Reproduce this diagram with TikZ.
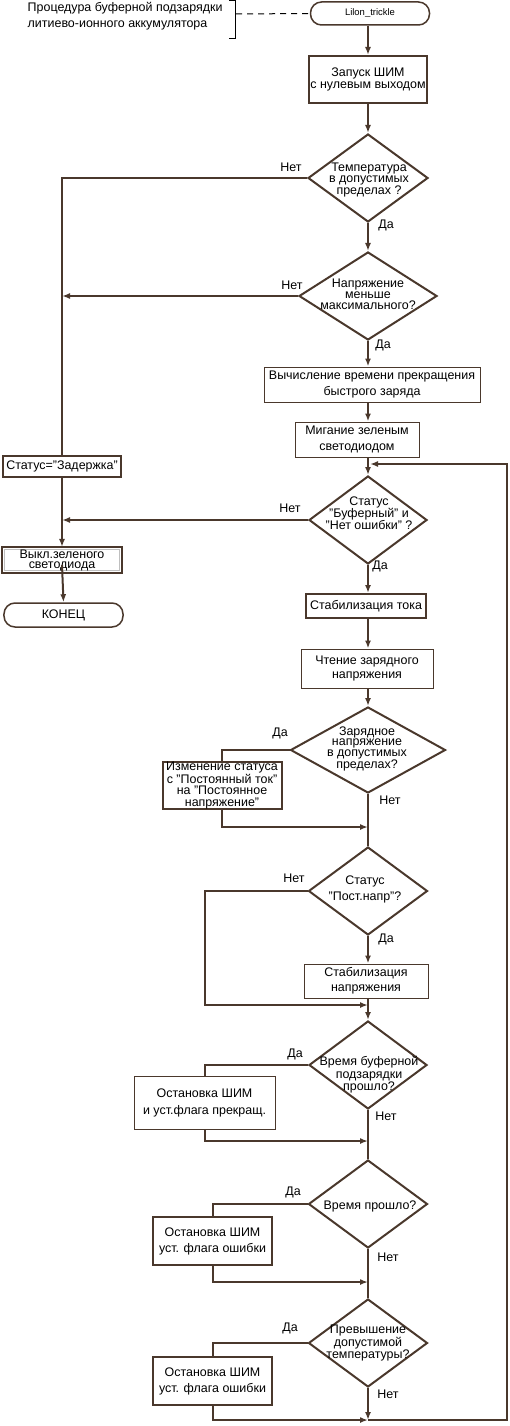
\documentclass[tikz,border=0pt]{standalone}
\usepackage{fontspec}
\setmainfont{Liberation Sans}
\usetikzlibrary{shapes.geometric,arrows.meta}
\definecolor{brn}{RGB}{74,56,44}
\begin{document}
\begin{tikzpicture}[x=1bp,y=-1bp,
  conn/.style={draw=brn,line width=2bp},
  arr/.style={conn,-{Latex[length=8bp,width=6bp]}},
  fnt/.style={font=\fontsize{12.5}{#1}\selectfont},
  tbox/.style={draw=brn,line width=1bp,fill=white,inner sep=0pt,align=center},
  kbox/.style={draw=brn,line width=2bp,fill=white,inner sep=0pt,align=center},
  dia/.style={diamond,draw=brn,line width=2bp,inner sep=0pt},
  term/.style={draw=brn,line width=1.5bp,rounded corners=11bp,inner sep=0pt,align=center},
  lbl/.style={font=\fontsize{12.5}{14}\selectfont,inner sep=0pt},
  dtext/.style={align=center,inner sep=0pt}
]
\useasboundingbox (0,0) rectangle (510,1426);

% annotation
\node[align=left,inner sep=0pt,anchor=west,fnt=16] (note) at (27.5,16) {Процедура буферной подзарядки\\литиево-ионного аккумулятора};
\draw[black,line width=1bp] (229,0.5) -- (235,0.5) -- (235,38.5) -- (229,38.5);
\coordinate (br) at (236,14);

% nodes
\node[term,minimum width=119bp,minimum height=23bp,font=\fontsize{9.5}{10}\selectfont] (start) at (370,13.5) {Lilon\_trickle};
\draw[black,line width=1bp,dash pattern=on 6bp off 5bp] (br) -- (start.west);

\node[kbox,fnt=12,minimum width=118bp,minimum height=47bp] (run) at (368,79.5) {Запуск ШИМ\\с нулевым выходом};
\node[dia,minimum width=120bp,minimum height=88bp] (d1) at (368,178) {};
\node[dtext,fnt=11] (d1t) at (369,180) {Температура\\в допустимых\\пределах ?};
\node[dia,minimum width=138bp,minimum height=88bp] (d2) at (368,296) {};
\node[dtext,fnt=11] (d2t) at (368,294) {Напряжение\\меньше\\максимального?};
\node[tbox,fnt=16,minimum width=216bp,minimum height=35bp] (calc) at (372,384.5) {Вычисление времени прекращения\\быстрого заряда};
\node[tbox,fnt=16,minimum width=124bp,minimum height=35bp] (blink) at (357,439.5) {Мигание зеленым\\светодиодом};
\coordinate (m1) at (368,464);
\node[dia,minimum width=118bp,minimum height=88bp] (d3) at (368,520) {};
\node[dtext,fnt=12] (d3t) at (369,513) {Статус\\"Буферный" и\\"Нет ошибки" ?};

\node[kbox,fnt=12,minimum width=118bp,minimum height=21bp] (zad) at (62,466.5) {Статус="Задержка"};
\node[draw=gray!50,line width=1bp,fill=white,inner sep=0pt,align=center,fnt=10,minimum width=114bp,minimum height=20bp] (vykl) at (62,560) {Выкл.зеленого\\светодиода};
\draw[brn,line width=2bp] ([shift={(-2bp,2bp)}]vykl.north west) rectangle ([shift={(2bp,-2bp)}]vykl.south east);
\node[term,fnt=12,minimum width=119bp,minimum height=24bp] (kon) at (63.5,615) {КОНЕЦ};

\node[kbox,fnt=12,minimum width=120bp,minimum height=24bp] (stok) at (366,606) {Стабилизация тока};
\node[tbox,fnt=15,minimum width=132bp,minimum height=39bp] (cht) at (367,668.5) {Чтение зарядного\\напряжения};
\node[dia,minimum width=155bp,minimum height=86bp] (d4) at (368,750) {};
\node[dtext,fnt=10.5] (d4t) at (367,749) {Зарядное\\напряжение\\в допустимых\\пределах?};
\node[kbox,fnt=11.5,minimum width=119bp,minimum height=47bp] (izm) at (222,785.5) {Изменение статуса\\с "Постоянный ток"\\на "Постоянное\\напряжение"};
\coordinate (m2) at (368,827);

\node[dia,minimum width=119bp,minimum height=88bp] (d5) at (368,891) {};
\node[dtext,fnt=16] (d5t) at (365,889) {Статус\\"Пост.напр"?};
\coordinate (c5) at (205,1005);
\node[tbox,fnt=15,minimum width=124bp,minimum height=34bp] (snap) at (366,981) {Стабилизация\\напряжения};
\coordinate (m3) at (368,1005);

\node[dia,minimum width=118bp,minimum height=88bp] (d6) at (368,1065) {};
\node[dtext,fnt=12.5] (d6t) at (369,1075) {Время буферной\\подзарядки\\прошло?};
\node[tbox,fnt=17,minimum width=141bp,minimum height=53bp] (ost1) at (204.5,1102.5) {Остановка ШИМ\\и уст.флага прекращ.};
\coordinate (m4) at (368,1141);

\node[dia,minimum width=119bp,minimum height=88bp] (d7) at (368,1204) {};
\node[dtext,fnt=12] (d7t) at (370,1206) {Время прошло?};
\node[kbox,fnt=16,minimum width=119bp,minimum height=48bp] (ost2) at (212.5,1241) {Остановка ШИМ\\уст. флага ошибки};
\coordinate (m5) at (368,1282);

\node[dia,minimum width=119bp,minimum height=88bp] (d8) at (368,1343) {};
\node[dtext,fnt=12.5] (d8t) at (368,1343) {Превышение\\допустимой\\температуры?};
\node[kbox,fnt=16,minimum width=119bp,minimum height=48bp] (ost3) at (212.5,1381) {Остановка ШИМ\\уст. флага ошибки};
\coordinate (m6) at (368,1420);
\coordinate (r1) at (507,1420);
\coordinate (r2) at (507,464);

% labels
\node[lbl] (n1) at (291,167) {Нет};
\node[lbl] (y1) at (386,225) {Да};
\node[lbl] (n2) at (292,285) {Нет};
\node[lbl] (y2) at (383,345) {Да};
\node[lbl] (n3) at (290,508) {Нет};
\node[lbl] (y3) at (380,566) {Да};
\node[lbl] (y4) at (280,733) {Да};
\node[lbl] (n4) at (390,800) {Нет};
\node[lbl] (n5) at (294,878) {Нет};
\node[lbl] (y5) at (386,939) {Да};
\node[lbl] (y6) at (295,1054) {Да};
\node[lbl] (n6) at (386,1116) {Нет};
\node[lbl] (y7) at (293,1192) {Да};
\node[lbl] (n7) at (388,1257) {Нет};
\node[lbl] (y8) at (290,1328) {Да};
\node[lbl] (n8) at (388,1394) {Нет};

% connectors
\draw[arr] (start.south -| run.north) -- (run.north);
\draw[arr] (run.south) -- (d1.north);
\draw[arr] (d1.south) -- (d2.north);
\draw[arr] (d2.south) -- (d2.south |- calc.north);
\draw[arr] (calc.south -| d2.south) -- (d2.south |- blink.north);
\draw[arr] (blink.south -| m1) -- (d3.north);
\draw[conn] (d1.west) -| (zad.north);
\draw[arr] (d2.west) -- (d2.west -| zad.north);
\draw[arr] (d3.west) -- (d3.west -| zad.north);
\draw[arr] (zad.south) -- ([yshift=2bp]vykl.north);
\draw[arr] ([yshift=6bp]vykl.south) -- (kon.north);
\draw[arr] (d3.south) -- (stok.north -| d3.south);
\draw[arr] (stok.south -| d3.south) -- (cht.north -| d3.south);
\draw[arr] (cht.south -| d3.south) -- (d4.north);
\draw[conn] (d4.west) -| (izm.north);
\draw[arr] (izm.south) |- (m2);
\draw[conn] (d4.south) -- (d5.north);
\draw[arr] (d5.west) -| (c5) -- (m3);
\draw[arr] (d5.south) -- (snap.north -| d5.south);
\draw[arr] (snap.south -| d5.south) -- (d6.north);
\draw[conn] (d6.west) -| (ost1.north);
\draw[arr] (ost1.south) |- (m4);
\draw[conn] (d6.south) -- (d7.north);
\draw[conn] (d7.west) -| (ost2.north);
\draw[arr] (ost2.south) |- (m5);
\draw[conn] (d7.south) -- (d8.north);
\draw[conn] (d8.west) -| (ost3.north);
\draw[arr] (ost3.south) |- (m6);
\draw[arr] (d8.south) -- (m6);
\draw[arr] (m6) -- (r1) -- (r2) -- ([xshift=2bp]m1);
\end{tikzpicture}
\end{document}
